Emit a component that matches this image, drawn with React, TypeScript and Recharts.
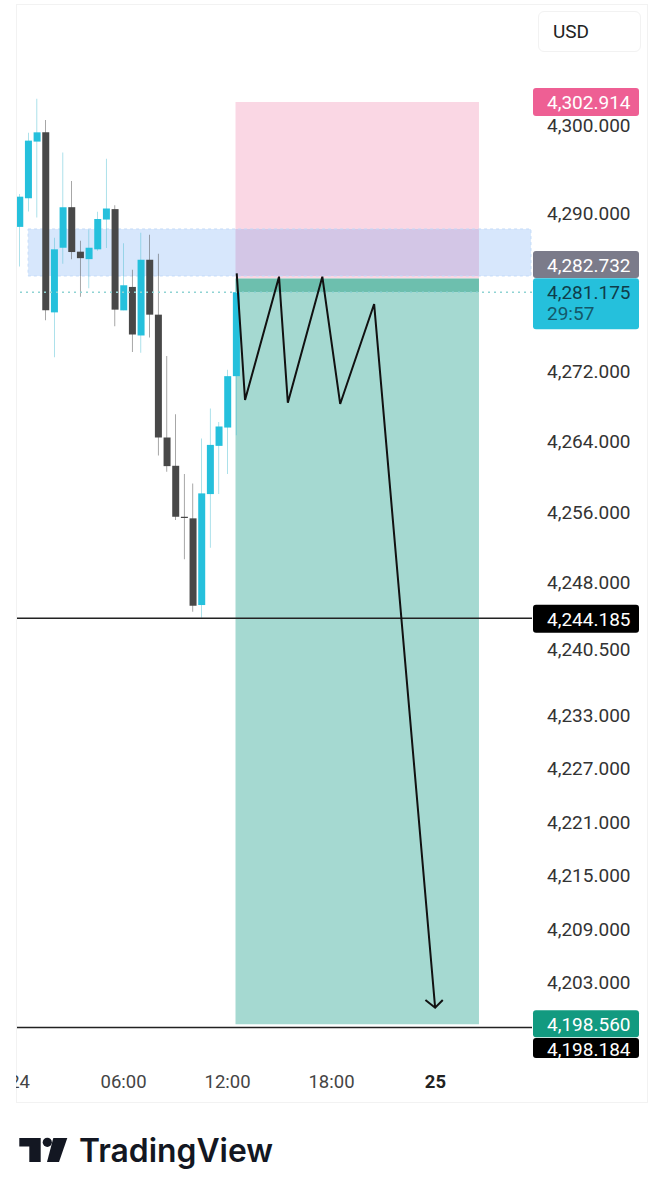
import { Bar, Cell, ComposedChart, Label, Line, ReferenceArea, ReferenceLine, XAxis, YAxis } from "recharts";

// 30 minute candles, time is hours since 00:00 on the 24th
const times = [0, 0.5, 1, 1.5, 2, 2.5, 3, 3.5, 4, 4.5, 5, 5.5, 6, 6.5, 7, 7.5, 8, 8.5, 9, 9.5, 10, 10.5, 11, 11.5, 12, 12.5];
const opens = [4288.63, 4291.9, 4298.38, 4299.44, 4278.88, 4286.25, 4290.88, 4285.8, 4284.95, 4286.07, 4289.47, 4290.66, 4279.11, 4281.78, 4276.25, 4284.88, 4278.62, 4264.65, 4261.44, 4255.66, 4255.48, 4245.67, 4258.23, 4263.7, 4265.78, 4271.62];
const highs = [4292.39, 4299.4, 4303.29, 4300.84, 4287.38, 4297.13, 4293.86, 4287.04, 4288.33, 4290.37, 4296.42, 4291.11, 4286.75, 4283.75, 4287.96, 4287.73, 4285.56, 4273.9, 4267.29, 4260.5, 4259.44, 4264.54, 4267.93, 4266.42, 4272.35, 4283.36];
const lows = [4284.12, 4290.39, 4289.69, 4277.98, 4273.76, 4284.43, 4284.95, 4280.65, 4281.63, 4285.91, 4286.22, 4277.3, 4279.11, 4274.36, 4274.28, 4276.02, 4262.61, 4260.76, 4255.29, 4250.84, 4244.91, 4244.23, 4252.15, 4258.23, 4260.5, 4264.91];
const closes = [4292.08, 4298.49, 4299.44, 4279.11, 4286.07, 4290.88, 4285.76, 4285.06, 4286.25, 4289.53, 4290.73, 4279.19, 4281.97, 4276.36, 4284.88, 4278.62, 4264.65, 4261.4, 4255.66, 4255.52, 4245.59, 4258.31, 4263.81, 4265.9, 4271.62, 4281.175];

// the hand drawn path and its arrow head
const pathHours = [12.53, 13.01, 14.97, 15.48, 17.47, 18.5, 20.46, 23.98];
const pathPrices = [4283.33, 4268.91, 4282.95, 4268.6, 4282.95, 4268.46, 4279.83, 4200.39];
const arrowHours = [23.42, 23.98, 24.42];
const arrowPrices = [4201.26, 4200.39, 4201.26];

const priceTicks = [4300, 4290, 4272, 4264, 4256, 4248, 4240.5, 4233, 4227, 4221, 4215, 4209, 4203];
const timeTicks = [0, 6, 12, 18, 24];
const timeLabels = ["24", "06:00", "12:00", "18:00", "25"];

const stopPrice = 4302.914;
const entryPrice = 4282.732;
const lastPrice = 4281.175;
const supportPrice = 4244.185;
const targetPrice = 4198.56;
const lowLinePrice = 4198.184;
const zoneHigh = 4288.39;
const zoneLow = 4283.03;
const positionStart = 12.46;
const positionEnd = 26.51;
const zoneStart = 0.49;
const zoneEnd = 29.51;

const candles = times.map((t, i) => ({
  t,
  wick: [lows[i], highs[i]],
  body: [Math.min(opens[i], closes[i]), Math.max(opens[i], closes[i])],
  up: closes[i] >= opens[i],
}));
const pathData = pathHours.map((t, i) => ({ t, price: pathPrices[i] }));
const arrowData = arrowHours.map((t, i) => ({ t, price: arrowPrices[i] }));

const FONT = "Roboto, sans-serif";
const TEAL = "#25c0dc";
const DARK = "#484848";

const fmt = (v: number) => v.toLocaleString("en-US", { minimumFractionDigits: 3, maximumFractionDigits: 3 });

const PriceTick = ({ x, y, payload }: any) => (
  <text x={x + 7} y={y - 2} dy="0.36em" fontFamily={FONT} fontSize={19} fill="#333">
    {fmt(payload.value)}
  </text>
);

const TimeTick = ({ x, y, payload }: any) => {
  const bold = payload.value === 24;
  return (
    <g>
      <clipPath id={`time-${payload.value}`}>
        <rect x={16} y={y - 10} width={600} height={50} />
      </clipPath>
      <text
        x={x}
        y={y + 11}
        dy="0.36em"
        textAnchor="middle"
        fontFamily={FONT}
        fontSize={18.5}
        fontWeight={bold ? 700 : 400}
        fill={bold ? "#222" : "#444"}
        clipPath={`url(#time-${payload.value})`}
      >
        {timeLabels[timeTicks.indexOf(payload.value)]}
      </text>
    </g>
  );
};

// price tag on the right, hung off the reference line it belongs to
const PriceTag = ({ viewBox, text, sub, fill, color, top, height, id, textY = 14 }: any) => {
  const x = viewBox.x + viewBox.width + 1;
  const y = viewBox.y + top;
  return (
    <g>
      <clipPath id={id}>
        <rect x={x} y={y} width={106} height={height} />
      </clipPath>
      <rect x={x} y={y} width={106} height={height} rx={3} fill={fill} />
      <text x={x + 14} y={y + textY} dy="0.36em" fontFamily={FONT} fontSize={19} fill={color} clipPath={`url(#${id})`}>
        {text}
      </text>
      {sub && (
        <text x={x + 14} y={y + 35} dy="0.36em" fontFamily={FONT} fontSize={19} fill="#14586a">
          {sub}
        </text>
      )}
    </g>
  );
};

const Logo = () => (
  <svg width={300} height={50} style={{ position: "absolute", left: 10, top: 1125 }}>
    <path d="M9.3 13H30.7V37H19.3V21.5H9.3Z" fill="#131722" />
    <circle cx={37.3} cy={17.3} r={4.6} fill="#131722" />
    <path d="M43.3 13H57.3L49 37H37Z" fill="#131722" />
    <text x={69} y={37} fontFamily="Inter, sans-serif" fontSize={32} fontWeight={600} fill="#131722" textLength={194} lengthAdjust="spacingAndGlyphs">
      TradingView
    </text>
  </svg>
);

export default function App() {
  return (
    <div style={{ position: "absolute", left: 0, top: 0, width: 664, height: 1200, background: "#fff", overflow: "hidden" }}>
      <div style={{ position: "absolute", left: 16, top: 4, width: 632, height: 1099, border: "1px solid #f2f2f2", boxSizing: "border-box" }} />
      <ComposedChart width={664} height={1103} data={candles} margin={{ top: 5, right: 0, bottom: 0, left: 17 }}>
        <XAxis
          dataKey="t"
          type="number"
          domain={[-0.15, 29.57]}
          allowDataOverflow
          ticks={timeTicks}
          interval={0}
          tick={<TimeTick />}
          height={41}
          axisLine={false}
          tickLine={false}
        />
        <XAxis xAxisId="body" dataKey="t" type="number" domain={[-0.15, 29.57]} allowDataOverflow hide />
        <YAxis
          orientation="right"
          width={132}
          type="number"
          scale="log"
          domain={[4194.33, 4314.04]}
          allowDataOverflow
          ticks={priceTicks}
          interval={0}
          tick={<PriceTick />}
          axisLine={false}
          tickLine={false}
        />

        <ReferenceArea x1={positionStart} x2={positionEnd} y1={entryPrice} y2={stopPrice} fill="#fad7e4" fillOpacity={1} stroke="none" />
        <ReferenceArea x1={positionStart} x2={positionEnd} y1={targetPrice} y2={lastPrice} fill="#a5d9d1" fillOpacity={1} stroke="none" />
        <ReferenceArea x1={positionStart} x2={positionEnd} y1={lastPrice} y2={entryPrice} fill="#6dbfae" fillOpacity={1} stroke="none" />
        <ReferenceArea
          x1={zoneStart}
          x2={zoneEnd}
          y1={zoneLow}
          y2={zoneHigh}
          fill="#2178f0"
          fillOpacity={0.18}
          stroke="#c4dbf8"
          strokeDasharray="3 3"
        />

        <ReferenceLine y={lastPrice} stroke="#8fd3d3" strokeDasharray="2 4" strokeWidth={1.5}>
          <Label content={<PriceTag id="tag-last" text={fmt(lastPrice)} sub="29:57" fill={TEAL} color="#0f3d4a" top={-14} height={51} />} />
        </ReferenceLine>
        <ReferenceLine y={stopPrice} stroke="none">
          <Label content={<PriceTag id="tag-stop" text={fmt(stopPrice)} fill="#ee5f94" color="#fff" top={-14} height={28} />} />
        </ReferenceLine>
        <ReferenceLine y={entryPrice} stroke="none">
          <Label content={<PriceTag id="tag-entry" text={fmt(entryPrice)} fill="#7b7b8a" color="#fff" top={-27.6} height={27} />} />
        </ReferenceLine>
        <ReferenceLine y={supportPrice} stroke="#222" strokeWidth={1.5}>
          <Label content={<PriceTag id="tag-support" text={fmt(supportPrice)} fill="#000" color="#fff" top={-13.5} height={28} />} />
        </ReferenceLine>
        <ReferenceLine y={lowLinePrice} stroke="#222" strokeWidth={1.5}>
          <Label content={<PriceTag id="tag-low" text={fmt(lowLinePrice)} fill="#000" color="#fff" top={10.5} height={20} textY={11} />} />
        </ReferenceLine>
        <ReferenceLine y={targetPrice} stroke="none">
          <Label content={<PriceTag id="tag-target" text={fmt(targetPrice)} fill="#129a80" color="#fff" top={-14} height={27} />} />
        </ReferenceLine>

        <Bar dataKey="wick" barSize={2.5} isAnimationActive={false}>
          {candles.map((c) => (
            <Cell key={c.t} fill={c.up ? "#4fbfd3" : "#444"} />
          ))}
        </Bar>
        <Bar dataKey="body" xAxisId="body" barSize={7} isAnimationActive={false}>
          {candles.map((c) => (
            <Cell key={c.t} fill={c.up ? TEAL : DARK} />
          ))}
        </Bar>

        <Line data={pathData} dataKey="price" stroke="#111" strokeWidth={2} dot={false} isAnimationActive={false} />
        <Line data={arrowData} dataKey="price" stroke="#111" strokeWidth={2} dot={false} isAnimationActive={false} />
      </ComposedChart>
      <div style={{ position: "absolute", left: 538, top: 11, width: 103, height: 41, border: "1px solid #f2f2f2", borderRadius: 6, boxSizing: "border-box", fontFamily: FONT, fontSize: 19, color: "#222", lineHeight: "39px", paddingLeft: 14, background: "#fff" }}>
        USD
      </div>
      <Logo />
    </div>
  );
}
